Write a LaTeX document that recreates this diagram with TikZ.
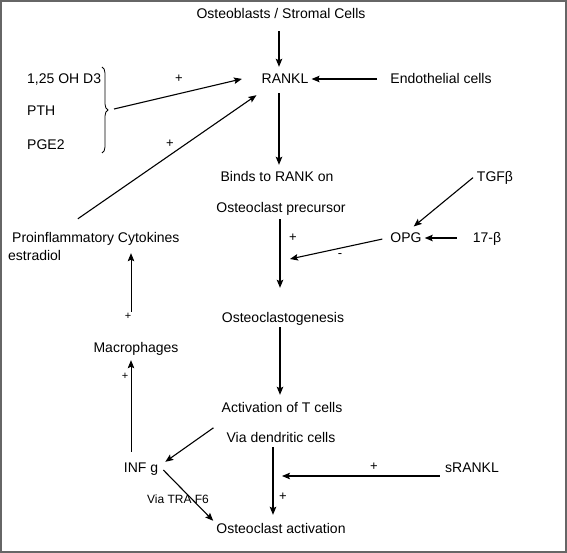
\documentclass[tikz,border=0pt]{standalone}
\usepackage{fontspec}
\setmainfont{Liberation Sans}
\usetikzlibrary{arrows.meta,decorations.pathreplacing}

\begin{document}
\begin{tikzpicture}[x=1pt,y=-1pt,
    lbl/.style={font=\fontsize{14}{16}\selectfont,text height=10pt,text depth=0pt,inner xsep=3pt,inner ysep=0pt},
    sgn/.style={font=\fontsize{13}{15}\selectfont,inner sep=0pt},
    arr/.style={line width=1.1pt,-{Stealth[length=8pt,width=6.5pt,inset=1.5pt]},shorten <=6pt,shorten >=7pt},
    thinarr/.style={arr,line width=0.8pt}]
    \useasboundingbox (0,0) rectangle (567,553);
    \draw[line width=2pt,black!60] (1,1) rectangle (566,552);

    % main column
    \node[lbl] (osteo) at (281,14) {Osteoblasts / Stromal Cells};
    \node[lbl] (rankl) at (285,79) {RANKL};
    \node[lbl] (endo) at (441,79) {Endothelial cells};
    \node[lbl] (binds) at (277,177) {Binds to RANK on};
    \node[lbl] (precursor) at (281,208) {Osteoclast precursor};
    \node[lbl] (genesis) at (283,317) {Osteoclastogenesis};
    \node[lbl] (tcells) at (282,407) {Activation of T cells};
    \node[lbl] (dendritic) at (281,437) {Via dendritic cells};
    \node[lbl] (ocact) at (281,528) {Osteoclast activation};

    % left side
    \node[lbl,anchor=west] (dthree) at (24,79) {1,25 OH D3};
    \node[lbl,anchor=west] (pth) at (24,111) {PTH};
    \node[lbl,anchor=west] (pgetwo) at (24,145) {PGE2};
    \node[lbl,anchor=west] (proinf) at (9,238) {Proinflammatory Cytokines};
    \node[lbl,anchor=west] (estradiol) at (5,256) {estradiol};
    \node[lbl] (macro) at (136,347) {Macrophages};
    \node[lbl] (infg) at (141,467) {INF g};
    \node[lbl,font=\fontsize{12}{14}\selectfont] (traf) at (178,498) {Via TRA F6};

    % right side
    \node[lbl] (tgf) at (495,177) {TGFβ};
    \node[lbl] (opg) at (406,238) {OPG};
    \node[lbl] (estr) at (487,238) {17-β};
    \node[lbl] (srankl) at (472,467) {sRANKL};

    % signs
    \node[sgn] (pa) at (179,79) {+};
    \node[sgn] (pb) at (170,144) {+};
    \node[sgn] (pc) at (293,238) {+};
    \node[sgn] (ma) at (340,256) {-};
    \node[sgn,font=\fontsize{11}{13}\selectfont] (pd) at (128,316) {+};
    \node[sgn,font=\fontsize{11}{13}\selectfont] (pe) at (125,376) {+};
    \node[sgn] (pf) at (374,467) {+};
    \node[sgn] (pg) at (283,497) {+};

    \coordinate (bracetip) at (114,109);
    \coordinate (opgend) at (290,259);
    \coordinate (sranklend) at (282,476);

    \draw[line width=0.8pt,decorate,decoration={brace,amplitude=6pt}] (102,67) -- (102,153);

    % vertical flow
    \draw[arr,shorten <=12pt] ([xshift=-2pt]osteo.south) -- ([xshift=-2pt]osteo.south |- rankl.north);
    \draw[arr,shorten <=9pt] ([xshift=-6pt]rankl.south) -- ([xshift=-6pt]rankl.south |- binds.north);
    \draw[arr,shorten >=24pt] ([xshift=-1pt]precursor.south) -- ([xshift=-1pt]precursor.south |- genesis.north);
    \draw[arr,shorten <=5pt] ([xshift=-3pt]genesis.south) -- ([xshift=-3pt]genesis.south |- tcells.north);
    \draw[arr,shorten <=5pt,shorten >=8pt] ([xshift=-8pt]dendritic.south) -- ([xshift=-8pt]dendritic.south |- ocact.north);

    % side inputs
    \draw[arr,shorten <=10pt,shorten >=0pt] (endo.west) -- (rankl.east);
    \draw[arr,shorten <=13pt,shorten >=0pt] (estr.west) -- (opg.east);
    \draw[arr,shorten <=1pt,shorten >=10pt] (tgf.west) -- (opg.north);
    \draw[arr,shorten <=5pt,shorten >=0pt] (opg.west) -- (opgend);
    \draw[arr,shorten <=0pt,shorten >=17pt] (bracetip) -- ([yshift=4pt]rankl.west);
    \draw[arr,shorten <=0pt,shorten >=0pt] ([xshift=-18pt,yshift=14pt]proinf.north) -- ([xshift=-2pt,yshift=-11pt]rankl.south west);
    \draw[arr,shorten <=0pt,shorten >=0pt] ([xshift=-10pt,yshift=4pt]dendritic.north west) -- ([xshift=4pt]infg.north east);
    \draw[arr,shorten <=0pt,shorten >=0pt] ([xshift=2pt,yshift=-3pt]infg.east) -- ([yshift=2pt]ocact.north west);
    \draw[arr,shorten <=0pt,shorten >=0pt] ([xshift=-2pt,yshift=-9pt]srankl.west) -- (sranklend);

    % left column
    \draw[thinarr,shorten <=10pt,shorten >=8pt] ([xshift=-10pt]infg.north) -- ([xshift=-10pt]infg.north |- macro.south);
    \draw[thinarr,shorten <=30pt,shorten >=10pt] ([xshift=-5pt]macro.north) -- ([xshift=-5pt]macro.north |- proinf.south);
\end{tikzpicture}
\end{document}
